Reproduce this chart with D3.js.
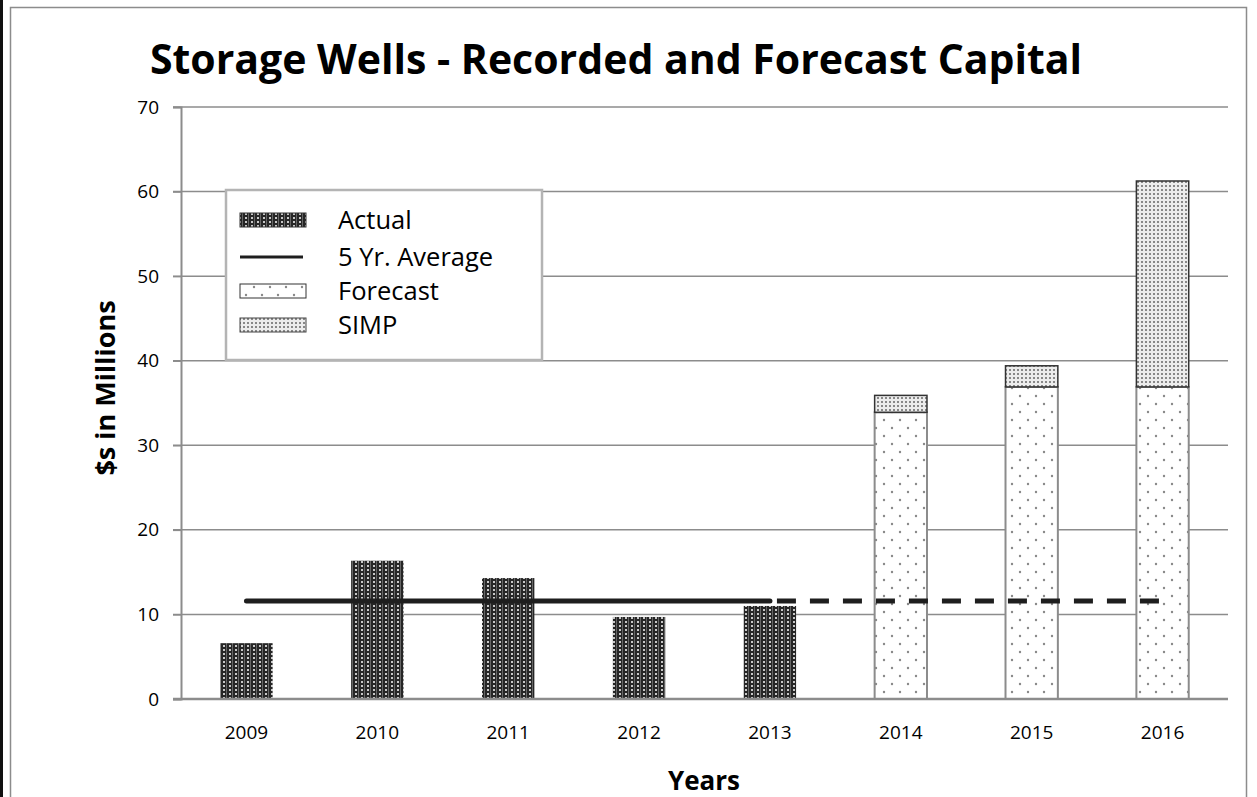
<!DOCTYPE html>
<html>
<head>
<meta charset="utf-8">
<script src="https://cdn.jsdelivr.net/npm/d3@7"></script>
<style>
  html, body { margin: 0; padding: 0; background: #fff; }
  svg { display: block; font-family: "Open Sans", sans-serif; }
</style>
</head>
<body>
<div id="chart"></div>
<script>
"use strict";

const years = ['2009', '2010', '2011', '2012', '2013', '2014', '2015', '2016']
const actual = [6.6, 16.35, 14.3, 9.7, 11.0, null, null, null]
const forecast = [null, null, null, null, null, 33.9, 36.9, 36.9]
const simp = [null, null, null, null, null, 2.0, 2.5, 24.35]
const average = 11.6
const yTicks = [0, 10, 20, 30, 40, 50, 60, 70]
const legendItems = ['Actual', '5 Yr. Average', 'Forecast', 'SIMP']

const width = 1257
  , height = 797
  , margin = { top: 107, right: 29, bottom: 98, left: 181 }

const FONT = '"Open Sans", sans-serif'

const svg = d3.select('#chart').append('svg')
  .attr('width', width)
  .attr('height', height)

/*
 * Fill patterns
 ***/
const defs = svg.append('defs')

const pActual = defs.append('pattern')
  .attr('id', 'p-actual')
  .attr('patternUnits', 'userSpaceOnUse')
  .attr('width', 6).attr('height', 4)
pActual.append('rect').attr('width', 6).attr('height', 4).attr('fill', '#262626')
pActual.append('rect').attr('x', 1).attr('y', 1).attr('width', 2).attr('height', 2).attr('fill', '#c8c8c8')
pActual.append('rect').attr('x', 4).attr('y', 0).attr('width', 1).attr('height', 4).attr('fill', '#666')

const pSimp = defs.append('pattern')
  .attr('id', 'p-simp')
  .attr('patternUnits', 'userSpaceOnUse')
  .attr('width', 4).attr('height', 4)
pSimp.append('rect').attr('width', 4).attr('height', 4).attr('fill', '#ececec')
pSimp.append('rect').attr('x', 1).attr('y', 1).attr('width', 2).attr('height', 2).attr('fill', '#888')

const pForecast = defs.append('pattern')
  .attr('id', 'p-forecast')
  .attr('patternUnits', 'userSpaceOnUse')
  .attr('width', 16).attr('height', 16)
pForecast.append('rect').attr('width', 16).attr('height', 16).attr('fill', '#fff')
pForecast.append('circle').attr('cx', 4).attr('cy', 4).attr('r', 1.2).attr('fill', '#888')
pForecast.append('circle').attr('cx', 12).attr('cy', 12).attr('r', 1.2).attr('fill', '#888')

/*
 * Outer frame
 ***/
svg.append('rect')
  .attr('x', 0).attr('y', 0)
  .attr('width', 3).attr('height', height)
  .attr('fill', '#111')

svg.append('path')
  .attr('d', `M10.5,${height} V7.5 H1246.5 V${height}`)
  .attr('fill', 'none')
  .attr('stroke', '#8c8c8c')
  .attr('stroke-width', 1.5)

/*
 * Scales
 ***/
const x = d3.scaleBand()
  .domain(years)
  .range([margin.left, width - margin.right])
  .paddingInner(0.6)
  .paddingOuter(0.3)

const y = d3.scaleLinear()
  .domain([0, 70])
  .range([height - margin.bottom, margin.top])

const g = svg.append('g')

// gridlines
g.append('g')
  .selectAll('line')
  .data(yTicks.slice(1))
  .join('line')
    .attr('x1', margin.left - 8)
    .attr('x2', width - margin.right)
    .attr('y1', d => y(d))
    .attr('y2', d => y(d))
    .attr('stroke', '#8c8c8c')
    .attr('stroke-width', 1.5)

// y axis
const yAxis = d3.axisLeft(y)
  .tickValues(yTicks)
  .tickSize(8)
  .tickPadding(14)

const yAxisG = g.append('g')
  .attr('transform', `translate(${margin.left},0)`)
  .call(yAxis)

yAxisG.select('.domain').attr('stroke', '#8c8c8c').attr('stroke-width', 2)
yAxisG.selectAll('.tick line').attr('stroke', '#8c8c8c').attr('stroke-width', 1.5)
yAxisG.selectAll('text')
  .style('font-size', '19px')
  .style('font-family', FONT)
  .attr('fill', '#000')

/*
 * Bars
 ***/
const barsG = g.append('g')

barsG.selectAll('rect.actual')
  .data(years.map((yr, i) => ({ yr, v: actual[i] })).filter(d => d.v != null))
  .join('rect')
    .attr('class', 'actual')
    .attr('x', d => x(d.yr))
    .attr('width', x.bandwidth())
    .attr('y', d => y(d.v))
    .attr('height', d => y(0) - y(d.v))
    .attr('fill', 'url(#p-actual)')

barsG.selectAll('rect.forecast')
  .data(years.map((yr, i) => ({ yr, v: forecast[i] })).filter(d => d.v != null))
  .join('rect')
    .attr('class', 'forecast')
    .attr('x', d => x(d.yr))
    .attr('width', x.bandwidth())
    .attr('y', d => y(d.v))
    .attr('height', d => y(0) - y(d.v))
    .attr('fill', 'url(#p-forecast)')
    .attr('stroke', '#8c8c8c')
    .attr('stroke-width', 2)

barsG.selectAll('rect.simp')
  .data(years.map((yr, i) => ({ yr, v: simp[i], base: forecast[i] })).filter(d => d.v != null))
  .join('rect')
    .attr('class', 'simp')
    .attr('x', d => x(d.yr))
    .attr('width', x.bandwidth())
    .attr('y', d => y(d.base + d.v))
    .attr('height', d => y(d.base) - y(d.base + d.v))
    .attr('fill', 'url(#p-simp)')
    .attr('stroke', '#333')
    .attr('stroke-width', 1.5)

// x axis (drawn over bar bottoms)
const xAxis = d3.axisBottom(x)
  .tickSize(0)
  .tickPadding(27)

const xAxisG = g.append('g')
  .attr('transform', `translate(0,${y(0)})`)
  .call(xAxis)

xAxisG.select('.domain')
  .attr('d', `M${margin.left - 8},0H${width - margin.right}`)
  .attr('stroke', '#8c8c8c')
  .attr('stroke-width', 2.5)
xAxisG.selectAll('text')
  .style('font-size', '19px')
  .style('font-family', FONT)
  .attr('fill', '#000')

/*
 * 5 year average: solid over recorded years, dashed over forecast years
 ***/
const center = yr => x(yr) + x.bandwidth() / 2

g.append('line')
  .attr('x1', center('2009'))
  .attr('x2', center('2013'))
  .attr('y1', y(average))
  .attr('y2', y(average))
  .attr('stroke', '#1e1e1e')
  .attr('stroke-width', 5)
  .attr('stroke-linecap', 'round')

g.append('line')
  .attr('x1', center('2013') + 7)
  .attr('x2', center('2016'))
  .attr('y1', y(average))
  .attr('y2', y(average))
  .attr('stroke', '#1e1e1e')
  .attr('stroke-width', 5)
  .attr('stroke-dasharray', '19,14')

/*
 * Legend
 ***/
const legend = svg.append('g')
  .attr('transform', 'translate(226,190)')

legend.append('rect')
  .attr('width', 316)
  .attr('height', 170)
  .attr('fill', '#fff')
  .attr('stroke', '#b4b4b4')
  .attr('stroke-width', 2.5)

const rowY = [30, 67, 101, 135]
const swatchFills = ['url(#p-actual)', null, 'url(#p-forecast)', 'url(#p-simp)']
const swatchStrokes = ['#333', null, '#333', '#444']

legendItems.forEach((label, i) => {
  const row = legend.append('g').attr('transform', `translate(0,${rowY[i]})`)
  if (swatchFills[i]) {
    row.append('rect')
      .attr('x', 14).attr('y', -7)
      .attr('width', 66).attr('height', 14)
      .attr('fill', swatchFills[i])
      .attr('stroke', swatchStrokes[i])
      .attr('stroke-width', 1)
  } else {
    row.append('line')
      .attr('x1', 14).attr('x2', 77)
      .attr('stroke', '#1e1e1e')
      .attr('stroke-width', 3)
  }
  row.append('text')
    .attr('x', 112)
    .attr('dy', '0.36em')
    .style('font-size', '25.5px')
    .text(label)
})

/*
 * Titles
 ***/
svg.append('text')
  .attr('x', 616)
  .attr('y', 74)
  .attr('text-anchor', 'middle')
  .style('font-size', '41px')
  .style('font-weight', 'bold')
  .text('Storage Wells - Recorded and Forecast Capital')

svg.append('text')
  .attr('transform', 'translate(115,388) rotate(-90)')
  .attr('text-anchor', 'middle')
  .style('font-size', '27px')
  .style('font-weight', 'bold')
  .text('$s in Millions')

svg.append('text')
  .attr('x', 704)
  .attr('y', 790)
  .attr('text-anchor', 'middle')
  .style('font-size', '26px')
  .style('font-weight', 'bold')
  .text('Years')
</script>
</body>
</html>
